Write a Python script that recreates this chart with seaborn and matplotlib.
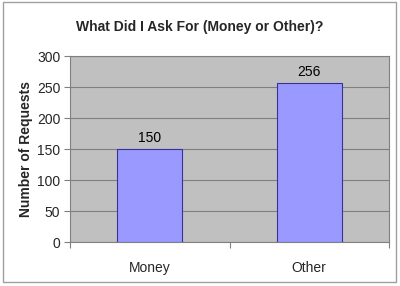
import matplotlib
matplotlib.use("Agg")
import matplotlib.pyplot as plt
import seaborn as sns
import pandas as pd
from matplotlib.patches import Rectangle

categories = ["Money", "Other"]
requests = [150, 256]
yticks = [0, 50, 100, 150, 200, 250, 300]

sns.set_theme(style="white")
plt.rcParams['font.family'] = ['Liberation Sans', 'DejaVu Sans']

df = pd.DataFrame({"cat": categories, "val": requests})

fig = plt.figure(figsize=(4.0, 2.86), dpi=100)
ax = fig.add_axes([0.175, 0.1538, 0.7975, 0.650])
ax.set_facecolor("#c0c0c0")

sns.barplot(data=df, x="cat", y="val", ax=ax, color="#9999ff",
            saturation=1, width=0.41, edgecolor="#333399", linewidth=0.8, zorder=3)

ax.set_ylim(0, 300)
ax.set_xlim(-0.5, 1.5)
ax.set_yticks(yticks)
ax.yaxis.grid(True, color="#808080", linewidth=0.8, zorder=0)
ax.set_axisbelow(True)
for s in ["top", "right", "left", "bottom"]:
    ax.spines[s].set_color("#808080")
    ax.spines[s].set_linewidth(0.8)

ax.tick_params(axis="y", direction="out", length=4, width=0.8, color="#808080",
               labelsize=10, pad=3, left=True)
ax.tick_params(axis="x", length=0, labelsize=10, pad=14)
ax.set_xticks([0, 1])
ax.set_xticklabels(categories)
ax.set_xticks([-0.5, 0.5, 1.5], minor=True)
ax.tick_params(axis="x", which="minor", direction="out", length=4, width=0.8,
               color="#808080", bottom=True)

ax.set_xlabel("")
ax.set_ylabel("Number of Requests", fontsize=10, fontweight="bold", labelpad=3)

for i, v in enumerate(requests):
    ax.text(i, v + 7, str(v), ha="center", va="bottom", fontsize=10, color="black")

fig.suptitle("What Did I Ask For (Money or Other)?", fontsize=10, fontweight="bold",
             y=0.93)

fig.patches.append(Rectangle((3/400, 4/286), 393/400, 280/286, transform=fig.transFigure,
                             fill=False, edgecolor="#a0a0a0", linewidth=1))

fig.savefig("out.png", dpi=100, facecolor="white")
